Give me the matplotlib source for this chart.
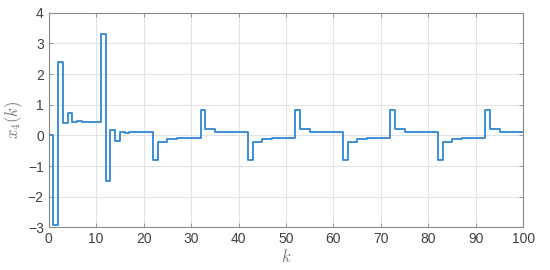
#!/usr/bin/env python

import matplotlib
matplotlib.use('Agg')
import matplotlib.pyplot as plt
import numpy as np

# step index and state x4(k)
k = np.arange(0, 101)
x4 = [0.0, -2.92, 2.38, 0.40, 0.73, 0.44, 0.46, 0.42, 0.42, 0.42,
      0.42, 3.32, -1.50, 0.17, -0.17, 0.10, 0.07, 0.10, 0.10, 0.10,
      0.10, 0.10, -0.82, -0.22, -0.22, -0.12, -0.12, -0.08, -0.08, -0.08,
      -0.08, -0.08, 0.82, 0.22, 0.22, 0.12, 0.12, 0.10, 0.10, 0.10,
      0.10, 0.10, -0.82, -0.22, -0.22, -0.12, -0.12, -0.08, -0.08, -0.08,
      -0.08, -0.08, 0.82, 0.22, 0.22, 0.12, 0.12, 0.10, 0.10, 0.10,
      0.10, 0.10, -0.82, -0.22, -0.22, -0.12, -0.12, -0.08, -0.08, -0.08,
      -0.08, -0.08, 0.82, 0.22, 0.22, 0.12, 0.12, 0.10, 0.10, 0.10,
      0.10, 0.10, -0.82, -0.22, -0.22, -0.12, -0.12, -0.08, -0.08, -0.08,
      -0.08, -0.08, 0.82, 0.22, 0.22, 0.12, 0.12, 0.10, 0.10, 0.10,
      0.10]
xticks = [0, 10, 20, 30, 40, 50, 60, 70, 80, 90, 100]
yticks = [-3, -2, -1, 0, 1, 2, 3, 4]

plt.rcParams['font.family'] = ['Liberation Sans', 'DejaVu Sans']
plt.rcParams['mathtext.fontset'] = 'cm'

fig = plt.figure(figsize=(5.5, 2.7), dpi=100)
ax = fig.add_axes([0.0885, 0.158, 0.863, 0.795])

ax.step(k, x4, where='post', color='#2f86d2', lw=1.3)

ax.set_xlim(0, 100)
ax.set_ylim(-3, 4)
ax.set_xticks(xticks)
ax.set_yticks(yticks)
ax.grid(True, color='#e3e3e3', lw=0.8)
ax.set_axisbelow(True)

for sp in ax.spines.values():
    sp.set_color('#8a8a8a')
    sp.set_linewidth(0.8)
ax.tick_params(direction='in', length=3, width=0.6, colors='#8a8a8a',
               labelcolor='#404040', labelsize=10, top=True, right=True)

ax.set_xlabel('$k$', fontsize=12, color='#7a7a7a', labelpad=1)
ax.set_ylabel('$x_4(k)$', fontsize=12, color='#7a7a7a', labelpad=2)

fig.savefig('out.png', dpi=100)
